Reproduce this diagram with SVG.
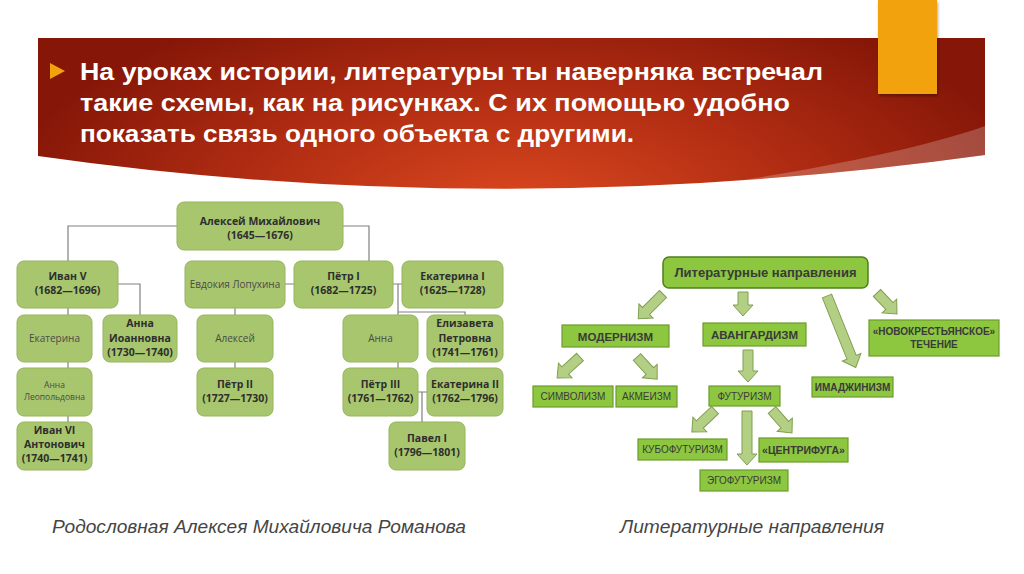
<svg xmlns="http://www.w3.org/2000/svg" width="1024" height="574" viewBox="0 0 1024 574">
<defs>
<radialGradient id="bg" cx="520" cy="215" r="520" gradientUnits="userSpaceOnUse" gradientTransform="translate(520 215) scale(1 0.45) translate(-520 -215)">
<stop offset="0" stop-color="#dd4a20"/>
<stop offset="0.55" stop-color="#b02c12"/>
<stop offset="1" stop-color="#861708"/>
</radialGradient>
<clipPath id="bc"><path d="M38,38 L985,38 L985,155 Q500,222 38,156 Z"/></clipPath>
<filter id="sh" x="-20%" y="-10%" width="140%" height="130%"><feDropShadow dx="1" dy="2" stdDeviation="1.5" flood-color="#000" flood-opacity="0.35"/></filter>
<style>
.ft rect{fill:#a8c66d;stroke:#95b55c;stroke-width:1}
.b{font-family:"Open Sans","DejaVu Sans",sans-serif;font-weight:bold;font-size:10.5px;fill:#2e2e2e;text-anchor:middle}
.r{font-family:"Open Sans","DejaVu Sans",sans-serif;font-size:10px;fill:#4a4a4a;text-anchor:middle}
.s{font-family:"Open Sans","DejaVu Sans",sans-serif;font-size:8.5px;fill:#4a4a4a;text-anchor:middle}
.con{fill:none;stroke:#808080;stroke-width:1.2}
.lb rect{fill:#8dc63f;stroke:#6b9b2c;stroke-width:1.2}
.lt{font-family:"Liberation Sans",Arial,sans-serif;font-weight:bold;font-size:11.5px;fill:#3a3a3a;text-anchor:middle}
.ln{font-family:"Liberation Sans",Arial,sans-serif;font-size:10px;fill:#3a3a3a;text-anchor:middle}
.arr{fill:#b3cf84;stroke:#7f9f50;stroke-width:1}
.cap{font-family:"Liberation Sans",Arial,sans-serif;font-style:italic;font-size:18px;fill:#454545}
.ti{font-family:"Liberation Sans",Arial,sans-serif;font-weight:bold;font-size:24px;fill:#ffffff}
</style>
</defs>
<rect width="1024" height="574" fill="#ffffff"/>
<g id="banner">
<path d="M38,38 L985,38 L985,155 Q500,222 38,156 Z" fill="url(#bg)"/>
<g clip-path="url(#bc)"><path d="M985,126 C930,146 800,176 600,200 L1000,230 L1000,120 Z" fill="#ffffff" fill-opacity="0.22"/></g>
<rect x="878" y="0" width="59" height="94" fill="#f2a20c" filter="url(#sh)"/>
<polygon points="50,63 65,71 50,79" fill="#f2a20c"/>
<text class="ti" x="80" y="80" textLength="743" lengthAdjust="spacingAndGlyphs">На уроках истории, литературы ты наверняка встречал</text>
<text class="ti" x="80" y="111" textLength="710" lengthAdjust="spacingAndGlyphs">такие схемы, как на рисунках. С их помощью удобно</text>
<text class="ti" x="80" y="142" textLength="554" lengthAdjust="spacingAndGlyphs">показать связь одного объекта с другими.</text>
</g>
<g id="tree-connectors">
<path class="con" d="M177,226 H68 V261 M343,226 H369 V261 M118,284 H140 V315 M68,308 V315 M68,362 V368 M68,416 V422 M285,284 H294 M235,308 V315 M235,362 V368 M393,284 H402 M398,284 V315 M398,312 H465 V315 M398,362 V368 M418,392 H427 M422,392 V422"/>
</g>
<g class="ft">
<g id="n-aleksey-mikh"><rect x="177" y="202" width="166" height="48" rx="7"/><text class="b" x="260" y="225">Алексей Михайлович</text><text class="b" x="260" y="239">(1645—1676)</text></g>
<g id="n-ivan5"><rect x="17" y="261" width="101" height="47" rx="7"/><text class="b" x="67.5" y="280">Иван V</text><text class="b" x="67.5" y="294">(1682—1696)</text></g>
<g id="n-evdokia"><rect x="185" y="261" width="100" height="47" rx="7"/><text class="r" x="235" y="288">Евдокия Лопухина</text></g>
<g id="n-petr1"><rect x="294" y="261" width="99" height="47" rx="7"/><text class="b" x="343.5" y="280">Пётр I</text><text class="b" x="343.5" y="294">(1682—1725)</text></g>
<g id="n-ekaterina1"><rect x="402" y="261" width="101" height="47" rx="7"/><text class="b" x="452.5" y="280">Екатерина I</text><text class="b" x="452.5" y="294">(1625—1728)</text></g>
<g id="n-ekaterina"><rect x="17" y="315" width="75" height="47" rx="7"/><text class="r" x="54.5" y="342">Екатерина</text></g>
<g id="n-anna-ioannovna"><rect x="103" y="315" width="74" height="47" rx="7"/><text class="b" x="140" y="327">Анна</text><text class="b" x="140" y="342">Иоанновна</text><text class="b" x="140" y="356">(1730—1740)</text></g>
<g id="n-aleksey"><rect x="197" y="315" width="76" height="47" rx="7"/><text class="r" x="235" y="342">Алексей</text></g>
<g id="n-anna"><rect x="343" y="315" width="75" height="47" rx="7"/><text class="r" x="380.5" y="342">Анна</text></g>
<g id="n-elizaveta"><rect x="427" y="315" width="76" height="47" rx="7"/><text class="b" x="465" y="327">Елизавета</text><text class="b" x="465" y="342">Петровна</text><text class="b" x="465" y="356">(1741—1761)</text></g>
<g id="n-anna-leopoldovna"><rect x="17" y="368" width="75" height="48" rx="7"/><text class="s" x="54.5" y="388">Анна</text><text class="s" x="54.5" y="400">Леопольдовна</text></g>
<g id="n-petr2"><rect x="197" y="368" width="76" height="48" rx="7"/><text class="b" x="235" y="388">Пётр II</text><text class="b" x="235" y="402">(1727—1730)</text></g>
<g id="n-petr3"><rect x="343" y="368" width="75" height="48" rx="7"/><text class="b" x="380.5" y="388">Пётр III</text><text class="b" x="380.5" y="402">(1761—1762)</text></g>
<g id="n-ekaterina2"><rect x="427" y="368" width="76" height="48" rx="7"/><text class="b" x="465" y="388">Екатерина II</text><text class="b" x="465" y="402">(1762—1796)</text></g>
<g id="n-ivan6"><rect x="17" y="422" width="75" height="48" rx="7"/><text class="b" x="54.5" y="434">Иван VI</text><text class="b" x="54.5" y="448">Антонович</text><text class="b" x="54.5" y="462">(1740—1741)</text></g>
<g id="n-pavel1"><rect x="389" y="422" width="76" height="48" rx="7"/><text class="b" x="427" y="442">Павел I</text><text class="b" x="427" y="456">(1796—1801)</text></g>
</g>
<g id="lit-arrows">
<polygon class="arr" transform="translate(663,294) rotate(45)" points="-5,0 5,0 5,24 10,24 0,35 -10,24 -5,24"/>
<polygon class="arr" transform="translate(743,292) rotate(0)" points="-5,0 5,0 5,13 10,13 0,24 -10,13 -5,13"/>
<polygon class="arr" transform="translate(827,296) rotate(-21.9)" points="-5,0 5,0 5,66 10,66 0,77 -10,66 -5,66"/>
<polygon class="arr" transform="translate(877,293) rotate(-43.6)" points="-5,0 5,0 5,18 10,18 0,29 -10,18 -5,18"/>
<polygon class="arr" transform="translate(580,357) rotate(47.6)" points="-5,0 5,0 5,20 10,20 0,31 -10,20 -5,20"/>
<polygon class="arr" transform="translate(637,357) rotate(-42.3)" points="-5,0 5,0 5,19 10,19 0,30 -10,19 -5,19"/>
<polygon class="arr" transform="translate(748,350) rotate(0)" points="-5,0 5,0 5,21 10,21 0,32 -10,21 -5,21"/>
<polygon class="arr" transform="translate(715,410) rotate(46.3)" points="-5,0 5,0 5,21 10,21 0,32 -10,21 -5,21"/>
<polygon class="arr" transform="translate(747,411) rotate(0)" points="-5,0 5,0 5,43 10,43 0,54 -10,43 -5,43"/>
<polygon class="arr" transform="translate(772,410) rotate(-41)" points="-5,0 5,0 5,19.5 10,19.5 0,30.5 -10,19.5 -5,19.5"/>
</g>
<g class="lb">
<g id="l-root"><rect x="663" y="257" width="205" height="31" rx="6" style="stroke:#4f7f1e;stroke-width:1.5"/><text class="lt" x="765.5" y="277" style="font-size:13px">Литературные направления</text></g>
<g id="l-modern"><rect x="562" y="325" width="107" height="22"/><text class="lt" x="615.5" y="340.5">МОДЕРНИЗМ</text></g>
<g id="l-avangard"><rect x="703" y="323" width="103" height="23"/><text class="lt" x="754.5" y="339">АВАНГАРДИЗМ</text></g>
<g id="l-simvol"><rect x="533" y="386" width="80" height="21"/><text class="ln" x="573" y="400">СИМВОЛИЗМ</text></g>
<g id="l-akme"><rect x="616" y="386" width="61" height="21"/><text class="ln" x="646.5" y="400">АКМЕИЗМ</text></g>
<g id="l-futur"><rect x="709" y="386" width="71" height="20"/><text class="ln" x="744.5" y="399.5">ФУТУРИЗМ</text></g>
<g id="l-imazh"><rect x="812" y="377" width="81" height="20"/><text class="lt" x="852.5" y="391" style="font-size:10px">ИМАДЖИНИЗМ</text></g>
<g id="l-novokr"><rect x="869" y="320" width="130" height="36"/><text class="lt" x="934" y="335" style="font-size:10px">«НОВОКРЕСТЬЯНСКОЕ»</text><text class="lt" x="934" y="348" style="font-size:10px">ТЕЧЕНИЕ</text></g>
<g id="l-kubo"><rect x="638" y="439" width="89" height="21"/><text class="ln" x="682.5" y="453">КУБОФУТУРИЗМ</text></g>
<g id="l-centr"><rect x="759" y="438" width="89" height="24"/><text class="lt" x="803.5" y="454" style="font-size:10.5px">«ЦЕНТРИФУГА»</text></g>
<g id="l-ego"><rect x="700" y="470" width="88" height="21"/><text class="ln" x="744" y="484">ЭГОФУТУРИЗМ</text></g>
</g>
<g id="captions">
<text class="cap" x="52" y="533" textLength="414" lengthAdjust="spacingAndGlyphs">Родословная Алексея Михайловича Романова</text>
<text class="cap" x="620" y="533" textLength="264" lengthAdjust="spacingAndGlyphs">Литературные направления</text>
</g>
</svg>
